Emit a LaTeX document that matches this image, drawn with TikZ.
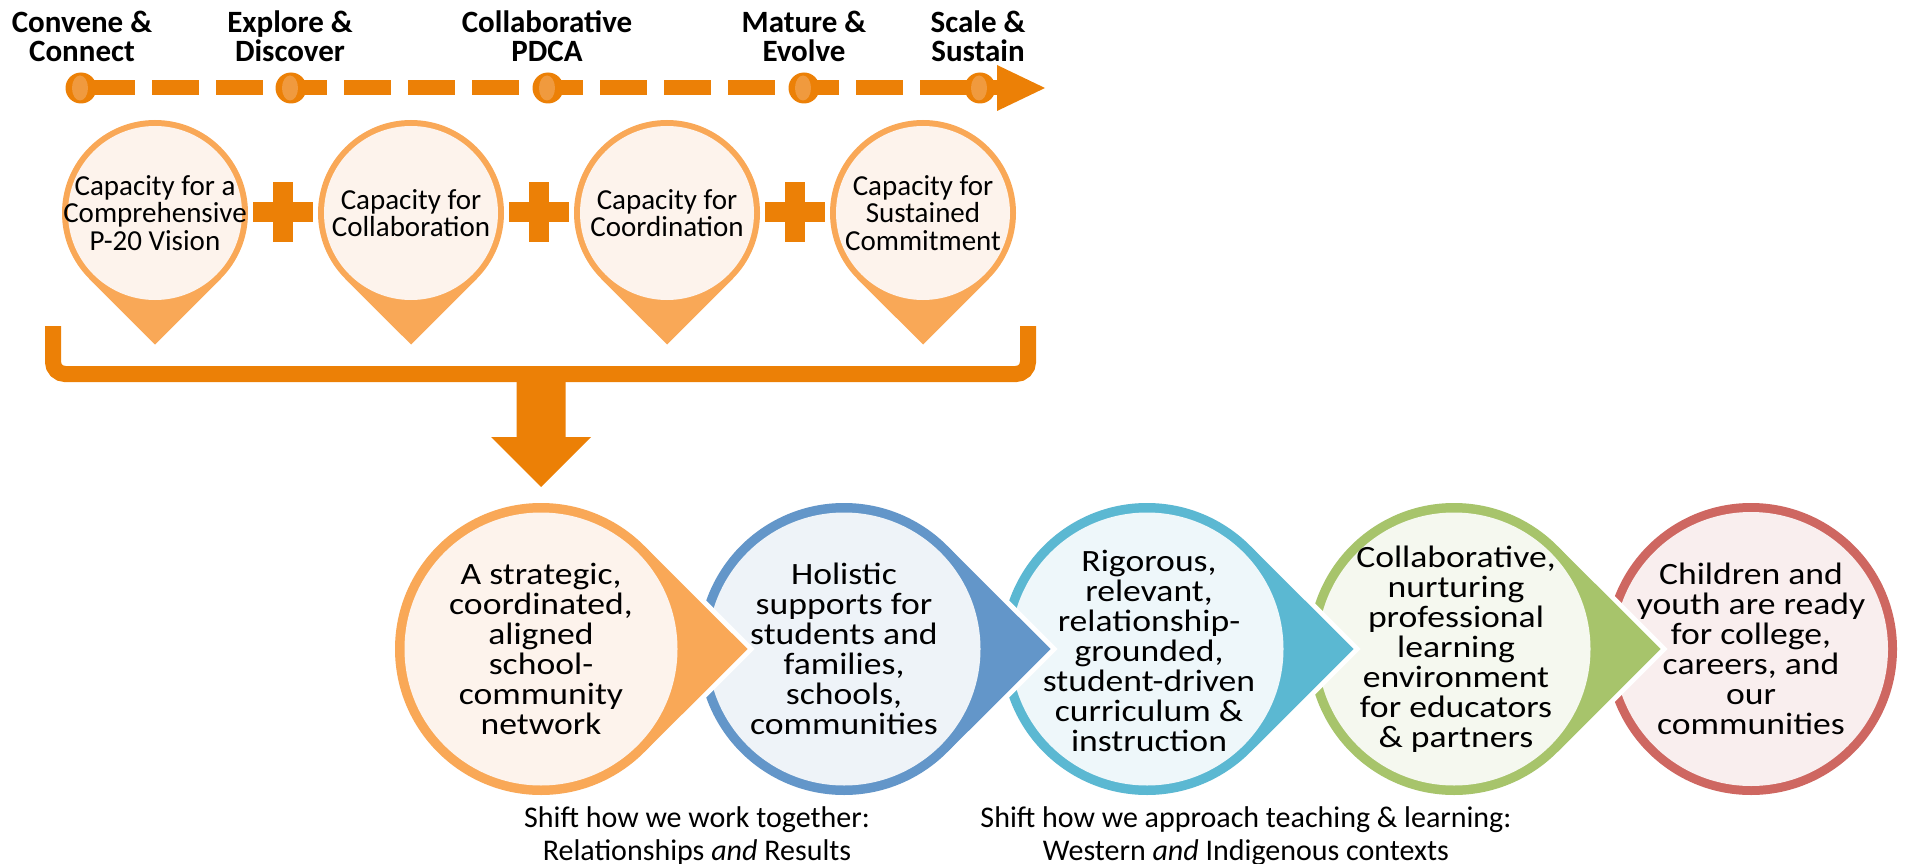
\documentclass[tikz,border=0pt]{standalone}
\usepackage{fontspec}
\setmainfont{Carlito}
\newfontfamily\circfont{Carlito}[FakeStretch=1.15]
\definecolor{dorange}{HTML}{EC8006}
\definecolor{lorange}{HTML}{F9A857}
\definecolor{dothi}{HTML}{F09A3E}
\definecolor{cream}{HTML}{FDF3EC}
\definecolor{bluering}{HTML}{6396C9}
\definecolor{bluefill}{HTML}{EEF3F8}
\definecolor{tealring}{HTML}{5BB8D2}
\definecolor{tealfill}{HTML}{EEF7FA}
\definecolor{greenring}{HTML}{A7C46B}
\definecolor{greenfill}{HTML}{F5F8EF}
\definecolor{redring}{HTML}{CE6761}
\definecolor{redfill}{HTML}{F9EEEE}
\newcommand{\tdrop}[3]{%
  \draw[white, line width=10pt] (#1,649) circle (146pt);
  \draw[white, line width=10pt, line join=miter] (#1+103.24,545.76) -- (#1+206.5,649) -- (#1+103.24,752.24);
  \fill[#2] (#1,649) circle (146pt);
  \fill[#2] (#1+103.24,545.76) -- (#1+206.5,649) -- (#1+103.24,752.24) -- cycle;
  \fill[#3] (#1,649) circle (136.5pt);
}
\newcommand{\pinshape}[1]{%
  \fill[lorange] (#1,213) circle (93pt);
  \fill[lorange] (#1-65.76,278.76) -- (#1,344.5) -- (#1+65.76,278.76) -- cycle;
  \fill[cream] (#1,213) circle (87pt);
}
\newcommand{\plussign}[1]{%
  \fill[dorange] (#1-30,202) rectangle (#1+30,222);
  \fill[dorange] (#1-10,182) rectangle (#1+10,242);
}
\begin{document}
\begin{tikzpicture}[x=1pt,y=-1pt,
  phase/.style={font=\bfseries\fontsize{31}{29}\selectfont, align=center, inner sep=0pt},
  pintext/.style={font=\fontsize{29}{27.5}\selectfont, align=center, inner sep=0pt},
  circtext/.style={font=\circfont\fontsize{31}{30}\selectfont, align=center, inner sep=0pt},
  captext/.style={font=\fontsize{30}{33}\selectfont, align=center, inner sep=0pt, anchor=north},
  dotnode/.style={circle, fill=dorange, minimum size=31pt, inner sep=0pt},
]
\useasboundingbox (0,0) rectangle (1907,864);

% ---------- phase labels ----------
\node[phase] (ph1) at (82,36) {Convene \&\\Connect};
\node[phase] (ph2) at (290,36) {Explore \&\\Discover};
\node[phase] (ph3) at (547,36) {Collaborative\\PDCA};
\node[phase] (ph4) at (804,36) {Mature \&\\Evolve};
\node[phase] (ph5) at (978,36) {Scale \&\\Sustain};

% ---------- timeline ----------
\coordinate (tstart) at (88,88);
\coordinate (tend) at (1000,88);
\draw[dorange, line width=15pt, dash pattern=on 47pt off 17pt] (tstart) -- (tend);
\fill[dorange] (997,65) -- (1045,88) -- (997,111) -- cycle;
\foreach \x [count=\i] in {81,291,548,804,980}{
  \node[dotnode] (d\i) at (\x,88) {};
  \fill[dothi] (\x-1,88) ellipse (8pt and 12.5pt);
}

% ---------- capacity pins ----------
\pinshape{155}
\pinshape{411}
\pinshape{667}
\pinshape{923}
\node[pintext] (cap1) at (155,213) {Capacity for a\\Comprehensive\\P-20 Vision};
\node[pintext] (cap2) at (411,213) {Capacity for\\Collaboration};
\node[pintext] (cap3) at (667,213) {Capacity for\\Coordination};
\node[pintext] (cap4) at (923,213) {Capacity for\\Sustained\\Commitment};
\plussign{283}
\plussign{539}
\plussign{795}

% ---------- bracket and arrow ----------
\coordinate (brl) at (53,326);
\coordinate (brr) at (1028,326);
\draw[dorange, line width=16pt, rounded corners=12pt] (brl) -- (53,374) -- (1028,374) -- (brr);
\coordinate (arrtop) at (541,374);
\fill[dorange] (516.5,374) -- (565.5,374) -- (565.5,437) -- (591,437) -- (541,487) -- (491,437) -- (516.5,437) -- cycle;

% ---------- outcome bubbles (right to left) ----------
\fill[redring] (1751,649) circle (146pt);
\fill[redfill] (1751,649) circle (137pt);
\tdrop{1454}{greenring}{greenfill}
\tdrop{1147}{tealring}{tealfill}
\tdrop{844}{bluering}{bluefill}
\tdrop{541}{lorange}{cream}

\node[circtext] (o1) at (541,649) {A strategic,\\coordinated,\\aligned\\school-\\community\\network};
\node[circtext] (o2) at (844,649) {Holistic\\supports for\\students and\\families,\\schools,\\communities};
\node[circtext] (o3) at (1149,651) {Rigorous,\\relevant,\\relationship-\\grounded,\\student-driven\\curriculum \&\\instruction};
\node[circtext] (o4) at (1456,649) {Collaborative,\\nurturing\\professional\\learning\\environment\\for educators\\\& partners};
\node[circtext] (o5) at (1751,649) {Children and\\youth are ready\\for college,\\careers, and\\our\\communities};

% ---------- captions ----------
\node[captext] (s1) at (697,806) {Shift how we work together:\\Relationships \textit{and} Results};
\node[captext] (s2) at (1246,806) {Shift how we approach teaching \& learning:\\Western \textit{and} Indigenous contexts};
\end{tikzpicture}
\end{document}
